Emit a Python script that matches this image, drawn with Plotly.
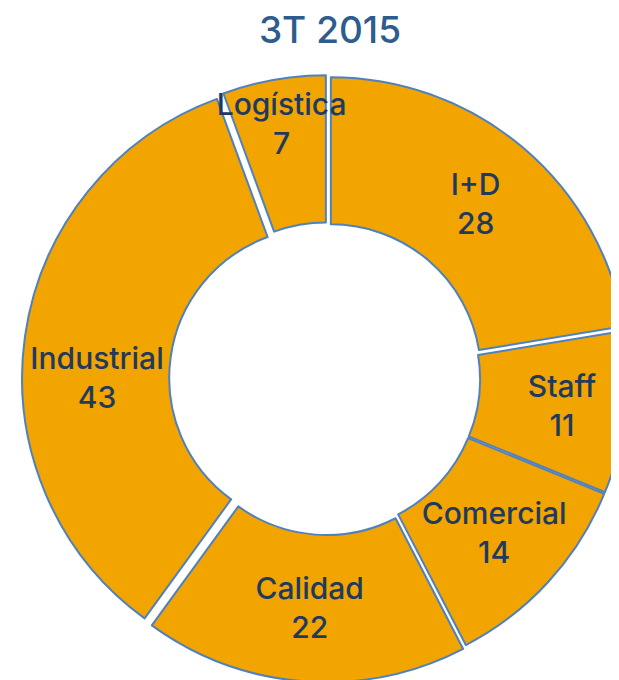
import plotly.graph_objects as go

categories = ["I+D", "Staff", "Comercial", "Calidad", "Industrial", "Logística"]
values = [28, 11, 14, 22, 43, 7]
pulls = [0.02, 0.01, 0.01, 0.02, 0.026, 0.022]
title_text = "3T 2015"

FIG_W = 650
FIG_H = 680
fig = go.Figure(go.Pie(
    labels=categories,
    values=values,
    pull=pulls,
    hole=0.505,
    sort=False,
    direction="clockwise",
    rotation=0,
    marker=dict(colors=["#F2A400"] * len(values), line=dict(color="#4F81BD", width=2)),
    texttemplate="%{label}<br>%{value}",
    textposition="inside",
    insidetextorientation="horizontal",
    textfont=dict(family="Inter, Lato, sans-serif", size=30, color="#1F3A5F", weight=500),
    domain=dict(x=[14 / FIG_W, 624 / FIG_W], y=[4 / FIG_H, 614 / FIG_H]),
    showlegend=False,
    hoverinfo="label+value",
))

fig.update_layout(
    width=FIG_W,
    height=FIG_H,
    margin=dict(l=0, r=0, t=0, b=0),
    paper_bgcolor="white",
    plot_bgcolor="white",
    title=dict(text=title_text, x=322 / FIG_W, xanchor="center", y=1 - 9 / FIG_H, yanchor="top",
               pad=dict(t=0, b=0, l=0, r=0),
               font=dict(family="Inter, Lato, sans-serif", size=37, color="#2E5C8E", weight=500)),
    uniformtext=dict(minsize=30, mode="show"),
)

fig.write_html("out.html")
